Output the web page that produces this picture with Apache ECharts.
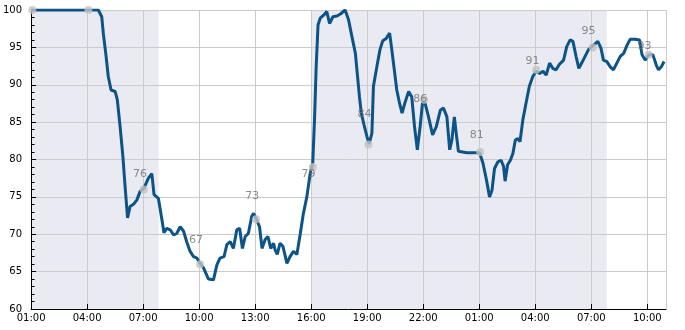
<!DOCTYPE html>
<html>
<head>
<meta charset="utf-8">
<script src="https://cdn.jsdelivr.net/npm/echarts@6/dist/echarts.min.js"></script>
<style>html,body{margin:0;padding:0;background:#fff;}#c{width:685px;height:330px;}</style>
</head>
<body>
<div id="c"></div>
<script>
// ---- data ----
const times = ["D1 01:00","D1 04:36","D1 04:47","D1 04:52","D1 05:01","D1 05:08","D1 05:17","D1 05:30","D1 05:37","D1 05:46","D1 05:55","D1 06:02","D1 06:10","D1 06:18","D1 06:29","D1 06:40","D1 06:50","D1 07:03","D1 07:17","D1 07:28","D1 07:35","D1 07:49","D1 07:57","D1 08:07","D1 08:16","D1 08:27","D1 08:38","D1 08:48","D1 08:59","D1 09:10","D1 09:20","D1 09:31","D1 09:42","D1 09:53","D1 10:03","D1 10:14","D1 10:30","D1 10:46","D1 10:57","D1 11:07","D1 11:20","D1 11:29","D1 11:40","D1 11:50","D1 12:01","D1 12:10","D1 12:19","D1 12:28","D1 12:38","D1 12:49","D1 12:55","D1 13:05","D1 13:14","D1 13:22","D1 13:32","D1 13:41","D1 13:50","D1 13:59","D1 14:04","D1 14:11","D1 14:20","D1 14:29","D1 14:42","D1 14:52","D1 15:03","D1 15:14","D1 15:25","D1 15:35","D1 15:46","D1 15:57","D1 16:05","D1 16:11","D1 16:16","D1 16:22","D1 16:29","D1 16:40","D1 16:50","D1 16:59","D1 17:10","D1 17:23","D1 17:35","D1 17:49","D1 18:00","D1 18:11","D1 18:22","D1 18:29","D1 18:35","D1 18:41","D1 18:50","D1 18:59","D1 19:06","D1 19:15","D1 19:20","D1 19:31","D1 19:41","D1 19:50","D1 20:01","D1 20:12","D1 20:19","D1 20:27","D1 20:35","D1 20:44","D1 20:52","D1 21:02","D1 21:13","D1 21:23","D1 21:32","D1 21:41","D1 21:50","D1 21:58","D1 22:06","D1 22:17","D1 22:30","D1 22:42","D1 22:55","D1 23:05","D1 23:16","D1 23:25","D1 23:32","D1 23:40","D1 23:46","D1 23:53","D2 00:20","D2 01:01","D2 01:12","D2 01:23","D2 01:33","D2 01:41","D2 01:49","D2 02:00","D2 02:10","D2 02:18","D2 02:23","D2 02:31","D2 02:40","D2 02:48","D2 02:56","D2 03:04","D2 03:11","D2 03:20","D2 03:31","D2 03:41","D2 03:52","D2 04:03","D2 04:14","D2 04:25","D2 04:35","D2 04:46","D2 04:56","D2 05:07","D2 05:17","D2 05:31","D2 05:41","D2 05:52","D2 06:01","D2 06:11","D2 06:20","D2 06:29","D2 06:40","D2 06:51","D2 07:02","D2 07:13","D2 07:21","D2 07:31","D2 07:39","D2 07:50","D2 08:01","D2 08:11","D2 08:22","D2 08:33","D2 08:44","D2 08:55","D2 09:05","D2 09:21","D2 09:35","D2 09:43","D2 09:53","D2 10:04","D2 10:18","D2 10:29","D2 10:36","D2 10:45","D2 10:54"];
const values = [100,100,99.1,96.9,93.8,91.1,89.3,89.1,88.0,84.4,80.4,76.4,72.2,73.7,74.0,74.6,75.7,76.2,77.5,78.1,75.3,74.8,72.8,70.2,70.8,70.6,69.9,70.1,71.0,70.4,69.0,67.7,67.0,66.8,66.1,65.5,64.0,63.9,65.9,66.8,67.0,68.6,69.0,68.1,70.6,70.8,68.1,69.7,70.1,72.4,72.8,71.9,71.0,68.1,69.3,69.7,68.1,68.8,67.9,67.3,68.8,68.4,66.1,67.0,67.7,67.3,70.1,72.8,75.0,78.2,79.5,85.7,92.4,98.0,98.9,99.3,99.8,98.2,99.1,99.2,99.5,100,98.7,96.4,94.2,91.1,88.4,86.2,84.6,83.1,82.1,83.5,89.8,92.4,94.7,95.9,96.2,96.9,94.7,92.0,89.3,87.5,86.2,87.7,89.1,88.4,84.4,81.3,84.4,87.7,87.5,85.7,83.3,84.4,86.6,86.9,85.7,81.3,82.6,85.7,83.5,81.1,80.9,80.9,79.5,77.3,75.0,75.9,78.8,79.7,79.9,79.1,77.1,79.3,79.9,80.8,82.6,82.8,82.4,85.3,87.7,89.8,91.1,91.8,91.5,91.8,91.3,92.9,92.2,92.0,92.7,93.3,95.1,96.0,95.8,93.8,92.2,92.9,93.8,94.7,95.1,95.5,95.8,94.9,93.3,93.1,92.4,92.0,92.9,93.8,94.2,95.3,96.1,96.1,96.0,94.0,93.3,94.0,94.0,92.6,92.0,92.4,93.1];

const markerTimes = ["D1 01:04","D1 04:04","D1 07:02","D1 10:03","D1 13:03","D1 16:05","D1 19:04","D1 22:03","D2 01:03","D2 04:03","D2 07:05","D2 10:04"];
const markerValues = [100,100,76,66,72,79,82,88,81,92,95,94];

const labelTexts = ["76","67","73","79","84","86","81","91","95","93"];
const labelTimes = ["D1 06:50","D1 09:50","D1 12:51","D1 15:51","D1 18:51","D1 21:50","D2 00:52","D2 03:51","D2 06:51","D2 09:51"];
const labelValues = [78.0,69.2,75.1,78.1,86.1,88.1,83.2,93.2,97.2,95.2];

const nightBands = [["D1 01:00","D1 07:50"],["D1 16:00","D2 07:50"]];
const xStart = "D1 01:00", xEnd = "D2 11:00";
const tickHours = 3;

// ---- helpers ----
function toH(s){ const d = +s.slice(1, s.indexOf(' ')); const [hh, mm] = s.split(' ')[1].split(':').map(Number); return (d-1)*24 + hh + mm/60; }
const h0 = toH(xStart);
const X = s => toH(s) - h0;
function fmt(v){ const h = Math.round((v + h0) % 24); return (h<10?'0':'')+h+':00'; }

const lineData = times.map((t,i)=>[X(t), values[i]]);
const markerData = markerTimes.map((t,i)=>[X(t), markerValues[i]]);
const labelData = labelTimes.map((t,i)=>({value:[X(t), labelValues[i]], name: labelTexts[i]}));

const chart = echarts.init(document.getElementById('c'), null, {renderer:'canvas'});
chart.setOption({
  animation:false,
  backgroundColor:'#ffffff',
  grid:{left:31, right:19, top:10, bottom:21, containLabel:false},
  xAxis:{
    type:'value', min:0, max:X(xEnd), interval:tickHours,
    axisLine:{show:true, onZero:false, lineStyle:{color:'#000', width:1}},
    axisTick:{show:true, inside:true, length:5, lineStyle:{color:'#000'}},
    axisLabel:{formatter:fmt, color:'#000', fontSize:10, fontFamily:'DejaVu Sans', margin:4},
    splitLine:{show:true, lineStyle:{color:'#cbcbcb', width:1}}
  },
  yAxis:{
    type:'value', min:60, max:100, interval:5,
    axisLine:{show:true, lineStyle:{color:'#000', width:1}},
    axisTick:{show:true, inside:true, length:5, lineStyle:{color:'#000'}},
    minorTick:{show:true, splitNumber:5, length:3.5, lineStyle:{color:'#000'}},
    axisLabel:{color:'#000', fontSize:10, fontFamily:'DejaVu Sans', margin:9},
    splitLine:{show:true, lineStyle:{color:'#cbcbcb', width:1}}
  },
  series:[
    {
      type:'line', data:lineData, showSymbol:false, z:3,
      lineStyle:{color:'#0c5387', width:3},
      markArea:{silent:true, itemStyle:{color:'#eaeaf2'}, z:-1,
        data: nightBands.map(b=>[{xAxis:X(b[0])},{xAxis:X(b[1])}])}
    },
    {
      type:'scatter', data:markerData, symbol:'circle', symbolSize:8, z:4,
      itemStyle:{color:'#c3c3c3'}
    },
    {
      type:'scatter', data:labelData, symbolSize:0, z:5,
      label:{show:true, position:'inside', formatter:p=>p.name, color:'#6f6f6f', fontSize:11, fontFamily:'DejaVu Sans'}
    }
  ]
});
</script>
</body>
</html>
